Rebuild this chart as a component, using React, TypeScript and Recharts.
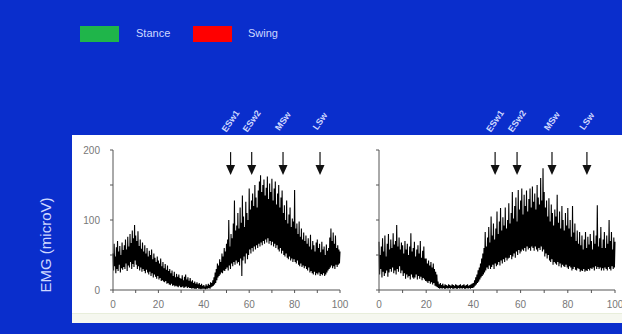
import React from 'react';
import { ComposedChart, Line, XAxis, YAxis, ReferenceDot } from 'recharts';

// sampling step of the EMG traces, in % of gait cycle
const STEP = 0.25;

// left muscle, rectified EMG (microV), one row = 5% of cycle
const leftEmg = [
  52, 28, 66, 34, 48, 24, 61, 30, 70, 27, 55, 36, 63, 25, 50, 31, 68, 29, 57, 33,
  64, 30, 72, 38, 58, 27, 76, 35, 62, 32, 80, 40, 67, 30, 85, 37, 74, 33, 93, 42,
  78, 36, 70, 30, 84, 34, 63, 28, 72, 32, 59, 26, 68, 30, 55, 27, 64, 24, 52, 29,
  60, 25, 48, 22, 56, 26, 50, 20, 58, 24, 44, 18, 52, 22, 46, 19, 40, 16, 48, 20,
  42, 15, 38, 17, 45, 13, 34, 14, 40, 12, 31, 11, 37, 13, 29, 9, 35, 10, 27, 8,
  30, 7, 24, 9, 28, 6, 20, 7, 26, 5, 18, 6, 23, 5, 19, 4, 22, 6, 17, 4,
  16, 4, 21, 5, 14, 3, 19, 4, 22, 5, 15, 3, 18, 4, 13, 3, 17, 3, 12, 2,
  14, 3, 10, 2, 12, 2, 9, 2, 11, 3, 8, 2, 10, 2, 7, 1, 9, 2, 6, 2,
  7, 2, 5, 1, 8, 2, 6, 2, 9, 3, 7, 2, 11, 4, 10, 5, 14, 6, 18, 8,
  25, 10, 30, 14, 38, 18, 35, 20, 44, 22, 40, 25, 52, 24, 48, 28, 60, 27, 55, 30,
  66, 32, 72, 28, 100, 35, 62, 30, 80, 38, 74, 34, 95, 40, 128, 36, 85, 42, 92, 38,
  110, 40, 88, 35, 118, 45, 96, 20, 135, 42, 105, 48, 90, 38, 126, 52, 110, 44, 100, 50,
  145, 58, 115, 52, 128, 60, 138, 55, 120, 62, 150, 58, 132, 64, 118, 60, 142, 66, 155, 62,
  164, 68, 140, 64, 150, 70, 158, 66, 135, 72, 146, 68, 162, 74, 130, 66, 152, 70, 140, 64,
  159, 69, 128, 62, 145, 66, 155, 60, 122, 64, 138, 58, 150, 55, 118, 60, 132, 52, 142, 56,
  110, 50, 121, 48, 100, 52, 128, 46, 95, 44, 108, 48, 118, 42, 90, 45, 102, 40, 98, 44,
  143, 40, 88, 38, 95, 42, 80, 36, 98, 34, 76, 38, 88, 33, 72, 35, 82, 31, 70, 34,
  78, 30, 66, 28, 74, 32, 62, 25, 79, 27, 58, 24, 70, 22, 64, 26, 55, 21, 68, 24,
  72, 22, 60, 25, 66, 20, 54, 23, 69, 21, 58, 24, 62, 20, 50, 22, 65, 25, 56, 28,
  60, 30, 75, 32, 88, 35, 70, 31, 82, 34, 66, 30, 78, 36, 60, 33, 64, 36, 58, 38,
  55,
];

// right muscle
const rightEmg = [
  69, 22, 50, 30, 62, 18, 74, 26, 55, 20, 78, 24, 48, 28, 66, 19, 80, 25, 58, 30,
  72, 26, 60, 32, 81, 24, 65, 28, 70, 22, 93, 30, 62, 26, 75, 34, 58, 24, 68, 28,
  64, 20, 52, 24, 70, 16, 58, 22, 66, 18, 50, 20, 62, 15, 81, 22, 55, 18, 60, 16,
  69, 18, 48, 22, 58, 15, 64, 20, 52, 16, 70, 19, 46, 14, 56, 17, 62, 15, 45, 13,
  45, 12, 38, 10, 42, 13, 35, 9, 40, 11, 32, 8, 38, 10, 30, 6, 26, 5, 22, 4,
  12, 3, 8, 2, 10, 3, 7, 2, 9, 3, 6, 2, 8, 2, 7, 3, 6, 2, 8, 3,
  7, 2, 6, 3, 8, 2, 7, 2, 6, 3, 8, 2, 7, 2, 6, 3, 7, 2, 8, 3,
  6, 2, 7, 3, 8, 2, 6, 2, 7, 3, 8, 2, 6, 3, 7, 2, 8, 3, 9, 3,
  10, 4, 14, 6, 18, 8, 22, 10, 28, 12, 32, 15, 38, 18, 45, 20, 52, 22, 60, 25,
  83, 28, 62, 32, 75, 30, 90, 35, 68, 30, 105, 33, 78, 36, 95, 30, 72, 38, 88, 34,
  112, 36, 80, 40, 98, 35, 117, 42, 85, 38, 104, 44, 92, 40, 118, 46, 88, 42, 100, 45,
  124, 46, 95, 50, 110, 44, 140, 48, 102, 52, 120, 46, 132, 55, 98, 50, 143, 57, 115, 52,
  128, 55, 145, 58, 108, 56, 136, 60, 120, 55, 142, 62, 112, 58, 130, 60, 145, 56, 118, 62,
  148, 60, 126, 56, 138, 62, 115, 58, 150, 55, 132, 60, 122, 57, 160, 62, 128, 55, 174, 58,
  140, 48, 118, 52, 128, 45, 105, 50, 131, 42, 98, 40, 122, 44, 110, 36, 92, 40, 115, 38,
  105, 36, 136, 40, 96, 34, 112, 38, 88, 32, 120, 36, 100, 34, 85, 33, 110, 36, 92, 32,
  117, 30, 88, 34, 100, 32, 76, 28, 120, 30, 82, 33, 95, 29, 70, 28, 85, 31, 66, 30,
  83, 26, 64, 28, 78, 27, 58, 30, 72, 26, 83, 28, 60, 27, 76, 30, 65, 28, 80, 31,
  70, 30, 58, 32, 85, 28, 66, 34, 78, 30, 121, 33, 62, 30, 74, 32, 90, 28, 60, 31,
  72, 28, 83, 32, 60, 30, 78, 28, 66, 33, 100, 30, 70, 28, 83, 34, 58, 30, 75, 32,
  69,
];

const eventLabels = ['ESw1', 'ESw2', 'MSw', 'LSw'];
const leftEvents = [51.8, 61.1, 74.9, 91.2];
const rightEvents = [49.2, 58.5, 73.3, 88.1];

const xTicks = [0, 10, 20, 30, 40, 50, 60, 70, 80, 90, 100];
const yTicks = [0, 50, 100, 150, 200];

const legendItems = [
  { name: 'Stance', color: '#1fb54a' },
  { name: 'Swing', color: '#ff0000' },
];

const BG = '#0a2ecc';
const LIGHT = '#cfd8ff';

function EventArrow({ cx, cy, label }: any) {
  return (
    <g>
      <line x1={cx} y1={cy} x2={cx} y2={cy + 15} stroke="#111" strokeWidth={1.2} />
      <path d={`M${cx - 4.5},${cy + 13} L${cx + 4.5},${cy + 13} L${cx},${cy + 23} Z`} fill="#111" />
      <text
        x={cx}
        y={cy - 31}
        transform={`rotate(-55 ${cx} ${cy - 31})`}
        textAnchor="middle"
        dominantBaseline="central"
        fill={LIGHT}
        fontSize={9}
        fontWeight="bold"
      >
        {label}
      </text>
    </g>
  );
}

function EmgPanel({ values, events, width, yWidth, marginRight, showYLabels }: any) {
  const data = values.map((v: number, i: number) => ({ x: i * STEP, v }));
  return (
    <ComposedChart
      width={width}
      height={222}
      data={data}
      margin={{ top: 50, right: marginRight, bottom: 8, left: 0 }}
      style={{ fontFamily: '"Liberation Sans", sans-serif' }}
    >
      <XAxis
        dataKey="x"
        type="number"
        domain={[0, 100]}
        ticks={xTicks}
        interval={0}
        tickFormatter={(v) => (v % 20 === 0 ? String(v) : '')}
        stroke="#555"
        tick={{ fill: '#777', fontSize: 10 }}
        tickSize={3}
        tickMargin={8}
        height={24}
      />
      <YAxis
        type="number"
        domain={[0, 200]}
        ticks={yTicks}
        interval={0}
        width={yWidth}
        tickFormatter={(v) => (showYLabels && v % 100 === 0 ? String(v) : '')}
        stroke="#555"
        tick={{ fill: '#777', fontSize: 10 }}
        tickSize={3}
        tickMargin={10}
      />
      <Line
        dataKey="v"
        type="linear"
        stroke="#000"
        strokeWidth={1.1}
        dot={false}
        activeDot={false}
        isAnimationActive={false}
      />
      {events.map((e: number, i: number) => (
        <ReferenceDot
          key={eventLabels[i]}
          x={e}
          y={197}
          r={0}
          ifOverflow="visible"
          shape={(p: any) => <EventArrow cx={p.cx} cy={p.cy} label={eventLabels[i]} />}
        />
      ))}
    </ComposedChart>
  );
}

export default function App() {
  return (
    <div
      style={{
        position: 'absolute',
        left: 0,
        top: 0,
        width: 622,
        height: 334,
        background: BG,
        overflow: 'hidden',
        fontFamily: '"Liberation Sans", sans-serif',
      }}
    >
      {legendItems.map((item, i) => (
        <React.Fragment key={item.name}>
          <div
            style={{
              position: 'absolute',
              left: 80 + i * 113,
              top: 26,
              width: 39,
              height: 16,
              background: item.color,
            }}
          />
          <div
            style={{
              position: 'absolute',
              left: 136 + i * 112,
              top: 26,
              lineHeight: '14px',
              fontSize: 11,
              color: LIGHT,
            }}
          >
            {item.name}
          </div>
        </React.Fragment>
      ))}

      <div style={{ position: 'absolute', left: 72, top: 135, width: 550, height: 178, background: '#fff' }} />
      <div
        style={{
          position: 'absolute',
          left: 72,
          top: 313,
          width: 550,
          height: 9,
          background: '#f5f7ef',
          borderTop: '1px solid #e8eedb',
        }}
      />

      <div
        style={{
          position: 'absolute',
          left: 45,
          top: 245,
          transform: 'translate(-50%, -50%) rotate(-90deg)',
          whiteSpace: 'nowrap',
          fontSize: 15,
          color: LIGHT,
        }}
      >
        EMG (microV)
      </div>

      <div style={{ position: 'absolute', left: 72, top: 100 }}>
        <EmgPanel values={leftEmg} events={leftEvents} width={290} yWidth={41} marginRight={22} showYLabels />
      </div>
      <div style={{ position: 'absolute', left: 362, top: 100 }}>
        <EmgPanel values={rightEmg} events={rightEvents} width={260} yWidth={17} marginRight={7} showYLabels={false} />
      </div>
    </div>
  );
}
